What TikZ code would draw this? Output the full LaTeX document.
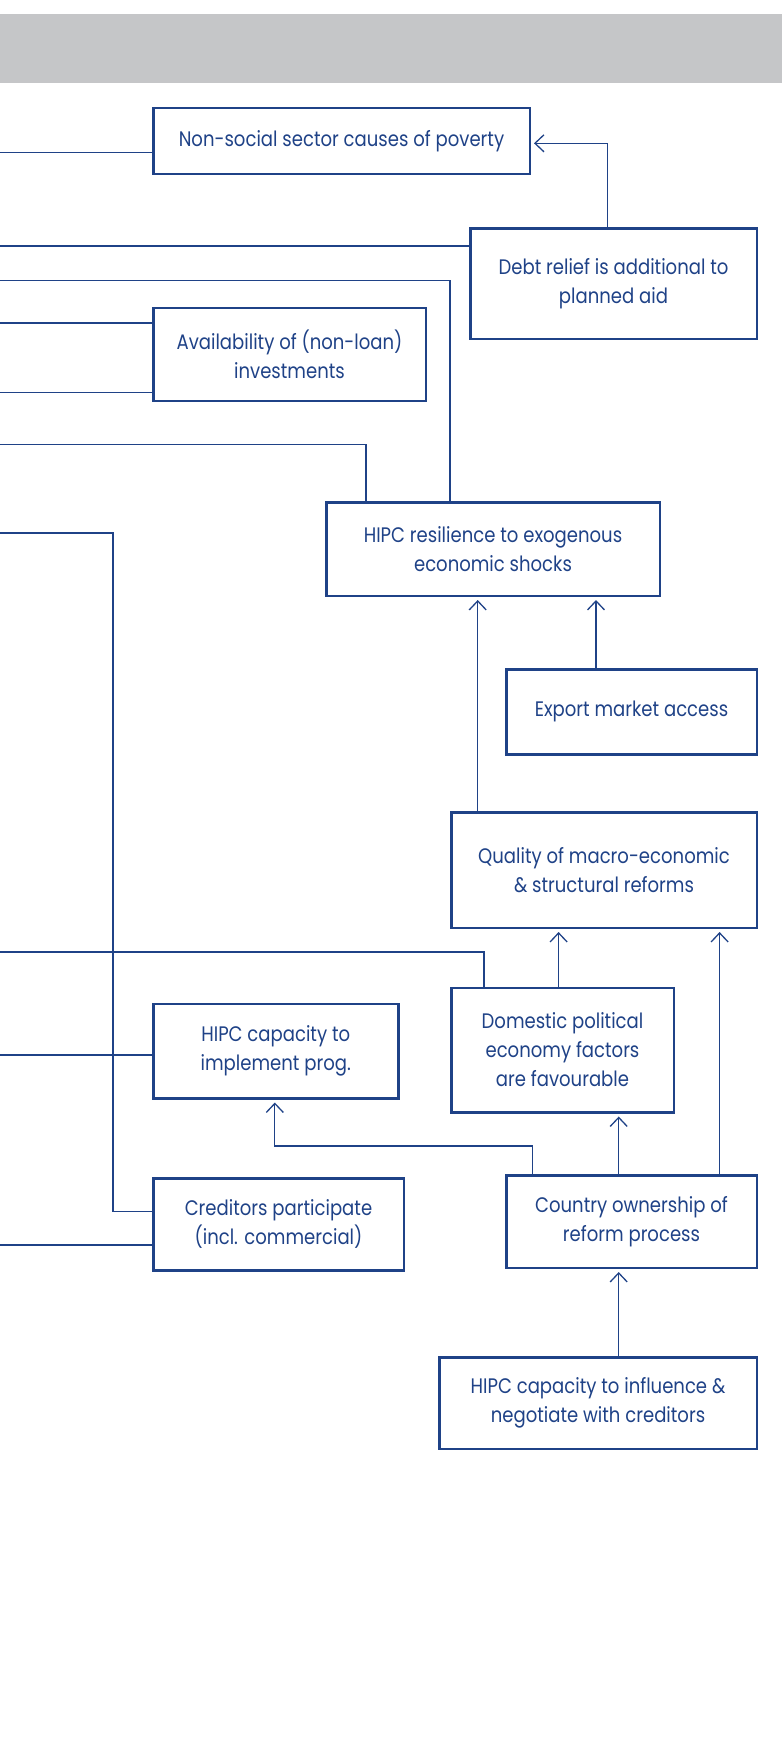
\documentclass[tikz,border=0pt]{standalone}
\usepackage{fontspec}
\setmainfont{Poppins}[FakeStretch=0.86]
\usetikzlibrary{arrows.meta}
\definecolor{navy}{RGB}{31,66,135}
\definecolor{band}{RGB}{197,198,200}
\begin{document}
\begin{tikzpicture}[x=1pt,y=-1pt,
  box/.style={draw=navy,line width=2.5pt,inner sep=0pt,align=center,text=navy,
    font=\fontsize{21}{29}\selectfont},
  link/.style={draw=navy,line width=1.3pt},
  arr/.style={link,-{Straight Barb[length=9pt,width=17pt,line width=1.3pt]},shorten >=3pt}]
\useasboundingbox (0,0) rectangle (782,1758);
\fill[band] (0,14) rectangle (782,83);

% factor boxes (centre, outer size minus border)
\node[box,minimum width=376.5pt,minimum height=65.5pt] (nonsocial) at (341.5,141) {Non-social sector causes of poverty};
\node[box,minimum width=286.5pt,minimum height=110.5pt] (debt) at (613.5,283.5) {Debt relief is additional to\\planned aid};
\node[box,minimum width=272.5pt,minimum height=93pt] (avail) at (289.5,354.25) {Availability of (non-loan)\\investments};
\node[box,minimum width=333.5pt,minimum height=93.5pt] (resil) at (493,549) {HIPC resilience to exogenous\\economic shocks};
\node[box,minimum width=250.5pt,minimum height=85pt] (export) at (631.5,711.75) {Export market access};
\node[box,minimum width=305.5pt,minimum height=115.5pt] (quality) at (604,870) {Quality of macro-economic\\\& structural reforms};
\node[box,minimum width=222.5pt,minimum height=124.5pt] (domestic) at (562.5,1050) {Domestic political\\economy factors\\are favourable};
\node[box,minimum width=245pt,minimum height=94.5pt] (implement) at (275.75,1051) {HIPC capacity to\\implement prog.};
\node[box,minimum width=250.5pt,minimum height=92.5pt] (country) at (631.5,1221.5) {Country ownership of\\reform process};
\node[box,minimum width=250.5pt,minimum height=92pt] (creditors) at (278.5,1224.4) {Creditors participate\\(incl. commercial)};
\node[box,minimum width=317.5pt,minimum height=91.5pt] (influence) at (598,1403) {HIPC capacity to influence \&\\negotiate with creditors};

% free ends on the left margin
\coordinate (l1) at (0,152.7);
\coordinate (l2) at (0,246);
\coordinate (l3) at (0,280.5);
\coordinate (l4) at (0,323);
\coordinate (l5) at (0,392.7);
\coordinate (l6) at (0,444.3);
\coordinate (l7) at (0,533);
\coordinate (l8) at (0,952);
\coordinate (l9) at (0,1055);
\coordinate (l10) at (0,1245);

% links leaving to the left
\draw[link] (l1) -- (l1 -| nonsocial.west);
\draw[link] (l2) -- (l2 -| debt.west);
\draw[link] (l3) -| (resil.north -| 450,0);
\draw[link] (l4) -- (l4 -| avail.west);
\draw[link] (l5) -- (l5 -| avail.west);
\draw[link] (l6) -| (resil.north -| 366,0);
\draw[link] (l7) -| (113,1211.7) -- (creditors.west |- 0,1211.7);
\draw[link] (l8) -| (domestic.north -| 484,0);
\draw[link] (l9) -- (l9 -| implement.west);
\draw[link] (l10) -- (l10 -| creditors.west);

% causal arrows
\draw[arr] (debt.north -| 607.5,0) |- (nonsocial.east |- 0,143.3);
\draw[arr] (export.north -| 596,0) -- (resil.south -| 596,0);
\draw[arr] (quality.north -| 477.7,0) -- (resil.south -| 477.7,0);
\draw[arr] (domestic.north -| 558.6,0) -- (quality.south -| 558.6,0);
\draw[arr] (country.north -| 719.6,0) -- (quality.south -| 719.6,0);
\draw[arr] (country.north -| 532.6,0) |- (274.8,1146) -- (implement.south -| 274.8,0);
\draw[arr] (country.north -| 618.7,0) -- (domestic.south -| 618.7,0);
\draw[arr] (influence.north -| 618.7,0) -- (country.south -| 618.7,0);
\end{tikzpicture}
\end{document}
